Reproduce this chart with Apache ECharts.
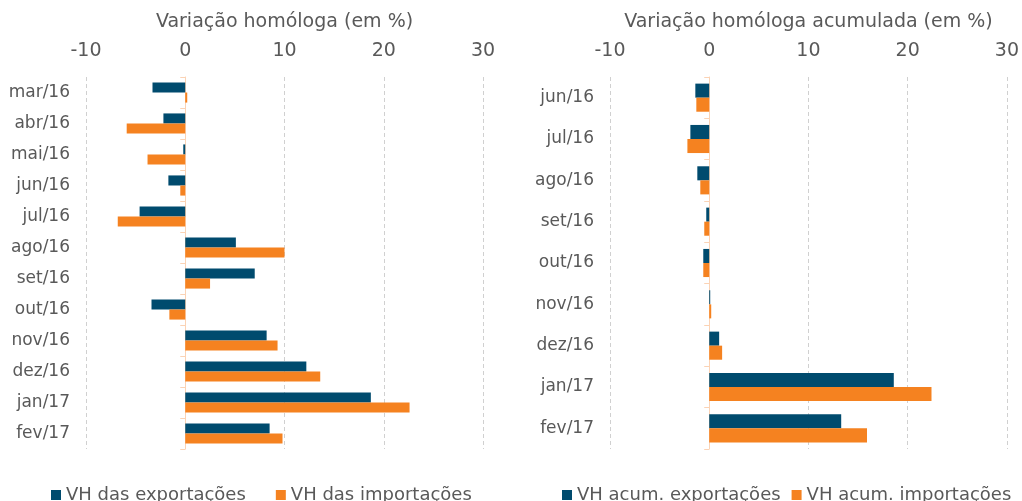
<!DOCTYPE html>
<html>
<head>
<meta charset="utf-8">
<script src="https://cdn.jsdelivr.net/npm/echarts@6/dist/echarts.min.js"></script>
<style>
  html, body { margin: 0; padding: 0; background: #fff; }
  #chart { width: 1022px; height: 501px; }
</style>
</head>
<body>
<div id="chart"></div>
<script>
// variação homóloga mensal (em %)
var mesesVH = ["mar/16", "abr/16", "mai/16", "jun/16", "jul/16", "ago/16", "set/16", "out/16", "nov/16", "dez/16", "jan/17", "fev/17"];
var vhExport = [-3.3, -2.2, -0.2, -1.7, -4.6, 5.1, 7.0, -3.4, 8.2, 12.2, 18.7, 8.5];
var vhImport = [0.2, -5.9, -3.8, -0.5, -6.8, 10.0, 2.5, -1.6, 9.3, 13.6, 22.6, 9.8];

// variação homóloga acumulada (em %)
var mesesAcum = ["jun/16", "jul/16", "ago/16", "set/16", "out/16", "nov/16", "dez/16", "jan/17", "fev/17"];
var acumExport = [-1.4, -1.9, -1.2, -0.3, -0.6, 0.1, 1.0, 18.6, 13.3];
var acumImport = [-1.3, -2.2, -0.9, -0.5, -0.6, 0.2, 1.3, 22.4, 15.9];

var tickLabels = ["-10", "0", "10", "20", "30"];

var azul = "#004b6e";
var laranja = "#f58220";
var cinza = "#595959";
var fonte = "DejaVu Sans";

function eixoX(grid, nome) {
  return {
    type: "value",
    gridIndex: grid,
    position: "top",
    min: -10,
    max: 30,
    interval: 10,
    name: nome,
    nameLocation: "middle",
    nameGap: 45,
    nameTextStyle: { color: cinza, fontSize: 19, fontFamily: fonte },
    axisLine: { show: false },
    axisTick: { show: false },
    axisLabel: {
      color: cinza, fontSize: 19, fontFamily: fonte, margin: 16,
      formatter: function (v) { return tickLabels[(v + 10) / 10]; }
    },
    splitLine: { lineStyle: { color: "#d0d0d0", type: [4, 3], width: 1 } }
  };
}

function eixoY(grid, dados, rotulos) {
  return {
    type: "category",
    gridIndex: grid,
    position: "left",
    inverse: true,
    data: dados,
    axisLine: rotulos ? { show: false, onZero: false } : { show: true, onZero: true, lineStyle: { color: "#fbd3b5" } },
    axisTick: rotulos ? { show: false } : { show: true, length: 5, lineStyle: { color: "#fbd3b5" } },
    axisLabel: rotulos ? { color: cinza, fontSize: 17, fontFamily: fonte, margin: 16 } : { show: false },
    splitLine: { show: false }
  };
}

var chart = echarts.init(document.getElementById("chart"));
chart.setOption({
  animation: false,
  textStyle: { fontFamily: fonte },
  grid: [
    { left: 86, right: 539, top: 77, bottom: 52 },
    { left: 610, right: 12, top: 77, bottom: 52 }
  ],
  xAxis: [eixoX(0, "Variação homóloga (em %)"), eixoX(1, "Variação homóloga acumulada (em %)")],
  yAxis: [
    eixoY(0, mesesVH, true), eixoY(0, mesesVH, false),
    eixoY(1, mesesAcum, true), eixoY(1, mesesAcum, false)
  ],
  legend: [
    {
      left: 46, top: 481, itemWidth: 10, itemHeight: 10, itemGap: 30, icon: "rect",
      textStyle: { color: cinza, fontSize: 18, fontFamily: fonte },
      data: ["VH das exportações", "VH das importações"]
    },
    {
      left: 557, top: 481, itemWidth: 10, itemHeight: 10, itemGap: 11, icon: "rect",
      textStyle: { color: cinza, fontSize: 18, fontFamily: fonte },
      data: ["VH acum. exportações", "VH acum. importações"]
    }
  ],
  series: [
    { name: "VH das exportações", type: "bar", xAxisIndex: 0, yAxisIndex: 0, data: vhExport,
      itemStyle: { color: azul }, barGap: "0%", barCategoryGap: "35%" },
    { name: "VH das importações", type: "bar", xAxisIndex: 0, yAxisIndex: 0, data: vhImport,
      itemStyle: { color: laranja }, barGap: "0%", barCategoryGap: "35%" },
    { name: "VH acum. exportações", type: "bar", xAxisIndex: 1, yAxisIndex: 2, data: acumExport,
      itemStyle: { color: azul }, barGap: "0%", barCategoryGap: "32%" },
    { name: "VH acum. importações", type: "bar", xAxisIndex: 1, yAxisIndex: 2, data: acumImport,
      itemStyle: { color: laranja }, barGap: "0%", barCategoryGap: "32%" }
  ]
});
</script>
</body>
</html>
